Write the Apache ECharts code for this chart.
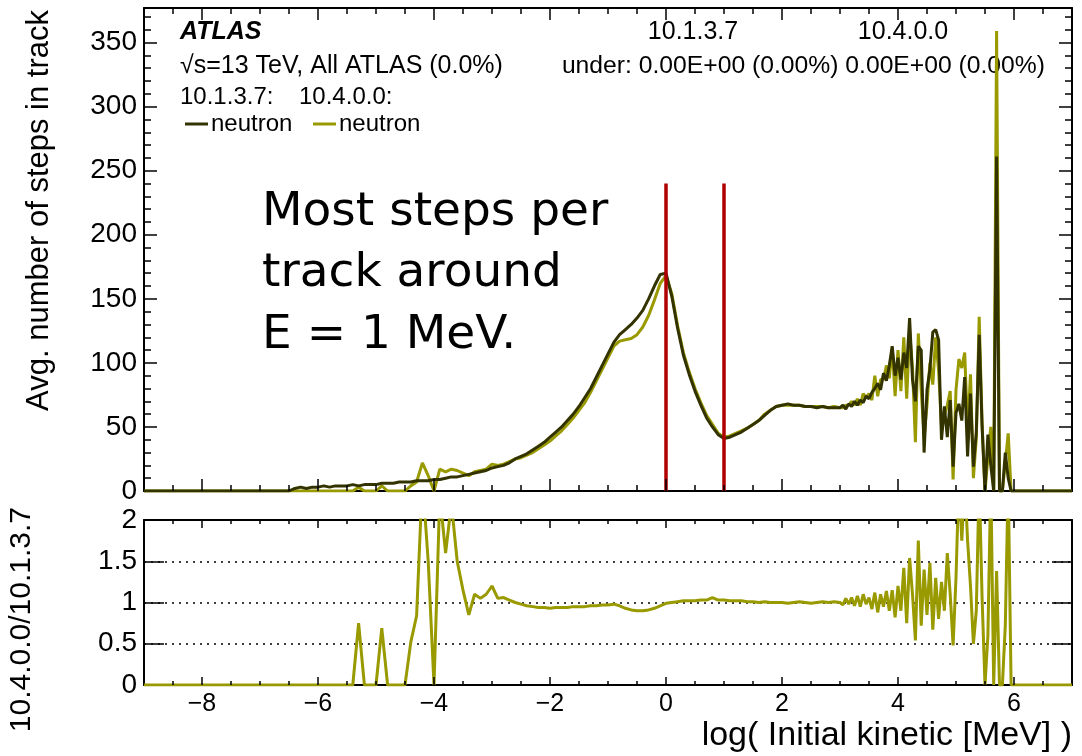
<!DOCTYPE html>
<html lang="en">
<head>
    <meta charset="UTF-8">
    <title>neutron steps per track</title>
    <script src="https://cdn.jsdelivr.net/npm/echarts@6.0.0/dist/echarts.min.js"></script>
    <style>
        html, body { margin: 0; padding: 0; background: #fff; }
    </style>
</head>
<body>
<div id="main" style="width: 1082px;height:756px;"></div>
<script type="text/javascript">
    // bin centres, log10(E / MeV)
    var logE = [
        -9.0, -6.5,
        -6.4,-6.3,-6.2,-6.1,-6.0,-5.9,-5.8,-5.7,-5.6,-5.5,
        -5.4,-5.3,-5.2,-5.1,-5.0,-4.9,-4.8,-4.7,-4.6,-4.5,
        -4.4,-4.3,-4.2,-4.1,-4.0,-3.9,-3.8,-3.7,-3.6,-3.5,
        -3.4,-3.3,-3.2,-3.1,-3.0,-2.9,-2.8,-2.7,-2.6,-2.5,
        -2.4,-2.3,-2.2,-2.1,-2.0,-1.9,-1.8,-1.7,-1.6,-1.5,
        -1.4,-1.3,-1.2,-1.1,-1.0,-0.9,-0.8,-0.7,-0.6,-0.5,
        -0.4,-0.3,-0.2,-0.1,0.0,0.1,0.2,0.3,0.4,0.5,
        0.6,0.7,0.8,0.9,1.0,1.1,1.2,1.3,1.4,1.5,
        1.6,1.7,1.8,1.9,2.0,2.1,2.2,2.3,2.4,2.5,
        2.6,2.7,2.8,2.9,
        3.00,3.05,3.10,3.15,3.20,3.25,3.30,3.35,3.40,3.45,
        3.50,3.55,3.60,3.65,3.70,3.75,3.80,3.85,3.90,3.95,
        4.00,4.05,4.10,4.15,4.20,4.25,4.30,4.35,4.40,4.45,
        4.50,4.55,4.60,4.65,4.70,4.75,4.80,4.85,4.90,4.95,
        5.00,5.05,5.10,5.15,5.20,5.25,5.30,5.35,5.40,5.45,
        5.50,5.55,5.60,5.65,5.70,5.75,5.80,5.85,5.90,5.95,
        6.00,
        7.0
    ];

    // 10.1.3.7 neutron, avg. steps
    var stepsOld = [
        0, 0,
        2,3,2,3,3,4,3,4,4,4,
        5,4,5,5,5,6,6,6,7,7,
        7,8,8,8,9,9,10,11,11,12,
        13,14,15,16,18,19,20,22,25,27,
        29,32,35,38,42,46,50,55,60,66,
        73,80,89,98,107,116,122,126,130,135,
        141,150,160,169,170,152,127,106,91,78,
        67,57,50,44,41,42,44,46,49,52,
        55,59,63,66,67,68,67,67,66,66,
        65,66,65,65,
        65,67,64,68,66,70,67,71,69,74,
        72,77,80,84,79,92,86,98,113,90,
        104,87,108,96,135,87,70,113,110,30,
        79,95,124,126,118,40,66,42,71,19,
        61,68,55,89,27,76,19,46,122,50,
        0,44,20,0,261,0,0,30,10,0,
        0,
        0
    ];

    // 10.4.0.0 neutron, avg. steps
    var stepsNew = [
        0, 0,
        0,0,0,0,0,0,0,0,0,0,
        0,3,0,0,0,4,0,0,0,0,
        4,7,22,12,0,17,15,17,16,14,
        12,15,16,17,21,20,21,23,25,26,
        28,30,33,36,39,43,47,52,57,63,
        69,77,86,95,104,113,117,118,119,122,
        128,137,149,162,168,154,129,108,93,80,
        69,59,52,45,42,43,45,47,49,52,
        55,60,63,66,67,67,67,67,66,66,
        66,66,65,66,
        65,65,67,67,70,67,72,67,76,73,
        76,71,90,74,87,87,98,88,112,74,
        110,78,120,72,125,96,38,123,79,42,
        67,100,83,120,94,50,59,67,78,9,
        79,103,96,108,47,91,10,41,136,53,
        0,26,50,0,359,0,0,22,45,0,
        0,
        0
    ];

    // 10.4.0.0 / 10.1.3.7
    var ratio = [
        0, 0,
        0,0,0,0,0,0,0,0,0,0,
        0,0.75,0,0,0,0.69,0,0,0,0,
        0.52,0.84,2.5,1.5,0,2.3,1.6,2.2,1.5,1.15,
        0.85,1.1,1.05,1.1,1.2,1.05,1.06,1.03,1.0,0.98,
        0.96,0.95,0.94,0.94,0.93,0.94,0.94,0.94,0.95,0.95,
        0.95,0.96,0.96,0.97,0.97,0.98,0.96,0.93,0.91,0.9,
        0.9,0.91,0.93,0.96,0.99,1.0,1.01,1.02,1.02,1.02,
        1.03,1.03,1.06,1.03,1.03,1.02,1.02,1.02,1.01,1.01,
        1.0,1.01,1.0,1.0,1.0,0.99,1.0,1.01,1.0,0.99,
        1.0,1.01,1.0,1.01,
        1.0,0.97,1.05,0.98,1.06,0.96,1.08,0.95,1.1,0.98,
        1.06,0.92,1.12,0.88,1.1,0.95,1.14,0.9,1.15,0.82,
        1.2,0.9,1.42,0.75,1.54,1.1,0.54,1.75,0.72,1.4,
        0.85,1.48,0.67,1.3,0.8,1.25,0.9,1.6,1.1,0.48,
        1.3,2.5,1.75,2.5,1.75,1.2,0.5,0.9,2.5,1.05,
        0,0.6,2.5,0,1.38,0,0,0.72,2.5,0,
        0,
        0
    ];

    // x tick positions (long on even values, short elsewhere)
    var xTickPos = [-8.5,-8,-7.5,-7,-6.5,-6,-5.5,-5,-4.5,-4,-3.5,-3,-2.5,-2,-1.5,-1,-0.5,
                    0,0.5,1,1.5,2,2.5,3,3.5,4,4.5,5,5.5,6,6.5];
    var markerE = [0, 1];      // red markers, log10(E)
    var markerTop = 240;

    var FONT = 'Liberation Sans, Helvetica, Arial, sans-serif';
    var OLD_COL = '#333300';
    var NEW_COL = '#999900';

    function pairs(ys) {
        return logE.map(function (x, i) { return [x, ys[i]]; });
    }

    function mkX(grid, side, labels) {
        return {
            type: 'value', gridIndex: grid, min: -9, max: 7, interval: 1, position: side,
            axisLine: { show: true, onZero: false, lineStyle: { color: '#000', width: 2 } },
            axisTick: { show: false },
            minorTick: { show: false },
            axisLabel: { show: labels, color: '#000', fontSize: 25, fontFamily: FONT, margin: 7,
                         formatter: function (v) {
                             if (Math.round(v) % 2 !== 0) return '';
                             return v < 0 ? '\u2212' + Math.abs(v) : String(v);
                         } },
            splitLine: { show: false }
        };
    }

    function mkY(grid, side, max, interval, majLen, minor, labels, dotted) {
        return {
            type: 'value', gridIndex: grid, min: 0, max: max, interval: interval, position: side,
            axisLine: { show: true, onZero: false, lineStyle: { color: '#000', width: 2 } },
            axisTick: { show: true, inside: true, length: majLen, lineStyle: { color: '#000', width: 1.5 } },
            minorTick: { show: minor, splitNumber: 5, length: 7, lineStyle: { color: '#000', width: 1.5 } },
            axisLabel: { show: labels, color: '#000', fontSize: 28, fontFamily: FONT, margin: 7,
                         formatter: function (v) {
                             return Math.abs(v / interval - Math.round(v / interval)) < 1e-6 ? String(v) : '';
                         } },
            splitLine: { show: dotted, lineStyle: { color: '#000', width: 1.5, type: [2, 5] } }
        };
    }

    // x-axis tick marks on the bottom and top edge of a pad, placed through the axis scale
    function tickSeries(xi, yi, yMax, longLen, shortLen) {
        return {
            type: 'custom', coordinateSystem: 'cartesian2d', xAxisIndex: xi, yAxisIndex: yi,
            silent: true, z: 6,
            data: xTickPos.map(function (x) { return [x, x % 2 === 0 ? longLen : shortLen]; }),
            renderItem: function (params, api) {
                var x = api.value(0), len = api.value(1);
                var b = api.coord([x, 0]);
                var t = api.coord([x, yMax]);
                return {
                    type: 'group',
                    children: [
                        { type: 'line', shape: { x1: b[0], y1: b[1], x2: b[0], y2: b[1] - len },
                          style: { stroke: '#000', lineWidth: 1.5 } },
                        { type: 'line', shape: { x1: t[0], y1: t[1], x2: t[0], y2: t[1] + len },
                          style: { stroke: '#000', lineWidth: 1.5 } }
                    ]
                };
            }
        };
    }

    var myChart = echarts.init(document.getElementById('main'));

    var textAt = function (t, x, y, opts) {
        return {
            type: 'text', x: x, y: y, silent: true,
            style: Object.assign({ text: t, fill: '#000', font: '25px ' + FONT, verticalAlign: 'middle' }, opts || {})
        };
    };

    var series = [
        { name: '10.4.0.0', type: 'line', xAxisIndex: 0, yAxisIndex: 0, data: pairs(stepsNew),
          symbol: 'none', lineStyle: { color: NEW_COL, width: 3 }, z: 3 },
        { name: '10.1.3.7', type: 'line', xAxisIndex: 0, yAxisIndex: 0, data: pairs(stepsOld),
          symbol: 'none', lineStyle: { color: OLD_COL, width: 3 }, z: 4 },
        { name: 'ratio', type: 'line', xAxisIndex: 2, yAxisIndex: 2, data: pairs(ratio),
          symbol: 'none', lineStyle: { color: NEW_COL, width: 3 }, z: 3 },
        tickSeries(0, 0, 377, 12, 6),
        tickSeries(2, 2, 2, 8, 4)
    ];
    markerE.forEach(function (e) {
        series.push({ type: 'line', xAxisIndex: 0, yAxisIndex: 0, data: [[e, 0], [e, markerTop]],
                      symbol: 'none', lineStyle: { color: '#b00000', width: 3.5 }, z: 5 });
    });

    myChart.setOption({
        animation: false,
        grid: [
            { left: 144, right: 10, top: 8, height: 483, outerBoundsMode: 'none' },
            { left: 144, right: 10, top: 520, height: 165, outerBoundsMode: 'none' }
        ],
        xAxis: [
            mkX(0, 'bottom', false),
            mkX(0, 'top', false),
            mkX(1, 'bottom', true),
            mkX(1, 'top', false)
        ],
        yAxis: [
            mkY(0, 'left', 377, 50, 13, true, true, false),
            mkY(0, 'right', 377, 50, 13, true, false, false),
            mkY(1, 'left', 2, 0.5, 20, false, true, true),
            mkY(1, 'right', 2, 0.5, 20, false, false, false)
        ],
        series: series,
        graphic: [
            textAt('ATLAS', 180, 32, { font: 'italic bold 25px ' + FONT }),
            textAt('\u221As=13 TeV, All ATLAS (0.0%)', 180, 66),
            textAt('10.1.3.7:', 180, 97, { font: '24px ' + FONT }),
            textAt('10.4.0.0:', 299, 97, { font: '24px ' + FONT }),
            { type: 'line', shape: { x1: 185, y1: 124, x2: 208, y2: 124 }, style: { stroke: OLD_COL, lineWidth: 3 } },
            textAt('neutron', 211, 124, { font: '24px ' + FONT }),
            { type: 'line', shape: { x1: 313, y1: 124, x2: 336, y2: 124 }, style: { stroke: NEW_COL, lineWidth: 3 } },
            textAt('neutron', 339, 124, { font: '24px ' + FONT }),
            textAt('10.1.3.7', 693, 32, { align: 'center' }),
            textAt('10.4.0.0', 903, 32, { align: 'center' }),
            textAt('under: 0.00E+00 (0.00%) 0.00E+00 (0.00%)', 1045, 66, { align: 'right', font: '24.7px ' + FONT }),
            textAt('Most steps per', 262, 213, { font: '47px DejaVu Sans, sans-serif' }),
            textAt('track around', 262, 274, { font: '47px DejaVu Sans, sans-serif' }),
            textAt('E = 1 MeV.', 262, 336, { font: '47px DejaVu Sans, sans-serif' }),
            { type: 'text', x: 39, y: 10, rotation: Math.PI / 2, silent: true,
              style: { text: 'Avg. number of steps in track', fill: '#000', font: '31px ' + FONT, align: 'right', verticalAlign: 'middle' } },
            { type: 'text', x: 22, y: 507, rotation: Math.PI / 2, silent: true,
              style: { text: '10.4.0.0/10.1.3.7', fill: '#000', font: '30px ' + FONT, align: 'right', verticalAlign: 'middle' } },
            textAt('log( Initial kinetic [MeV] )', 1072, 736, { font: '34px ' + FONT, align: 'right' })
        ]
    });
</script>
</body>
</html>
